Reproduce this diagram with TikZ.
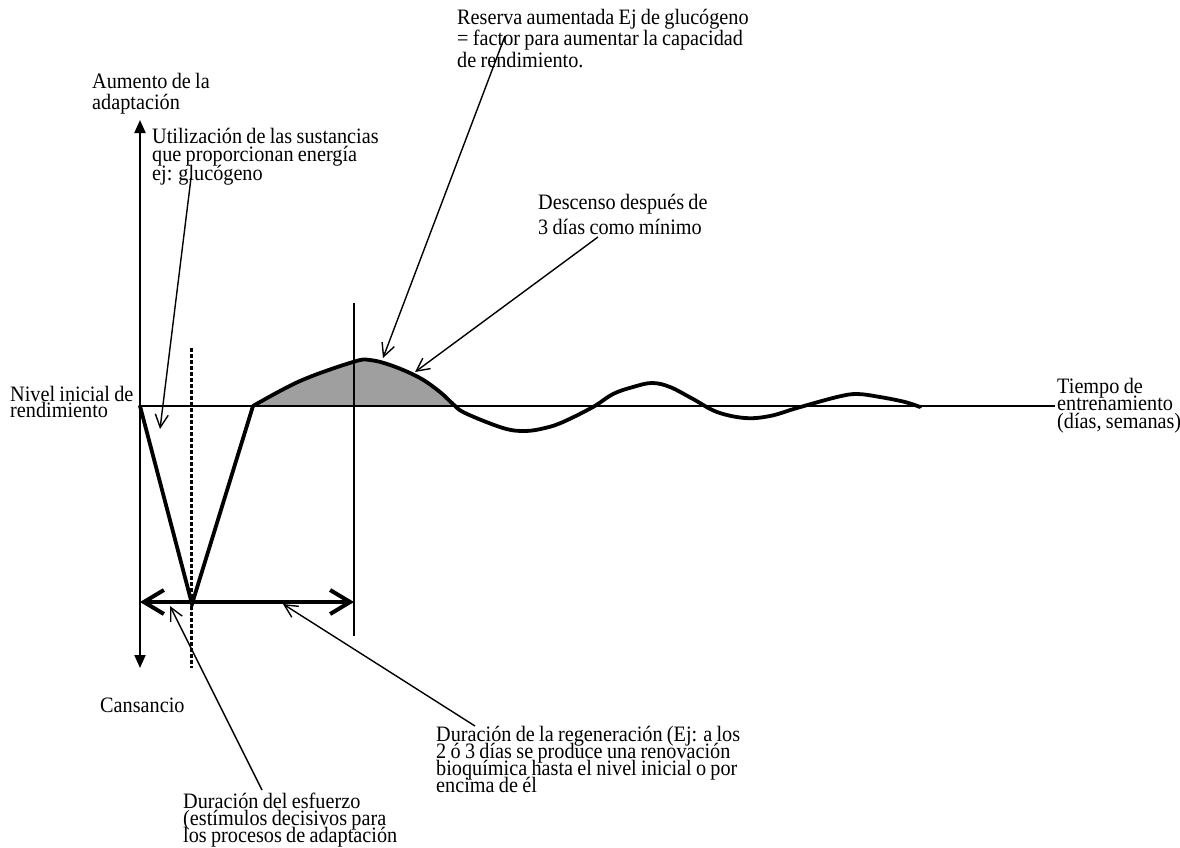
\documentclass[tikz,border=0pt]{standalone}
\usepackage{fontspec}
\setmainfont{Liberation Serif}[FakeStretch=0.92,WordSpace=0.85]
\usetikzlibrary{arrows.meta}
\newcommand{\lblfont}[1]{\fontsize{22}{#1}\selectfont\lineskiplimit=-100pt\relax}
\begin{document}
\begin{tikzpicture}[x=1pt,y=-1pt,
  lbl/.style={anchor=base west,inner sep=0pt,align=left},
  ann/.style={line width=1.4pt,-{Straight Barb[length=13pt,width=13pt,line width=1.4pt]}},
  curve/.style={line width=3.8pt,line join=round,line cap=round},
  axis/.style={line width=2pt}]
\useasboundingbox (0,0) rectangle (1180,847);
% coordinates
\coordinate (O) at (140,406);
\coordinate (Atop) at (140,120);
\coordinate (Abot) at (140,668);
\coordinate (Xend) at (1055,406);
\coordinate (Vb) at (192,604);
\coordinate (Vr) at (253,406);
\coordinate (Dtop) at (191,348);
\coordinate (Dbot) at (191,668);
\coordinate (Ltop) at (354,303);
\coordinate (Lbot) at (354,636);
\coordinate (HL) at (140,602);
\coordinate (HR) at (354,602);
% gray reserve area
\fill[gray!75] plot[smooth,tension=0.6] coordinates {(253,406) (300,381) (353,362) (370,360) (393,366) (420,378) (440,392) (455,406)} -- cycle;
% baseline and axes
\draw[line width=1.3pt] (O) -- (Xend);
\draw[axis,-{Triangle[length=13pt,width=11pt]}] (O) -- (Atop);
\draw[axis,-{Triangle[length=13pt,width=11pt]}] (O) -- (Abot);
% dotted and thin vertical
\draw[line width=3pt,dash pattern=on 4pt off 2pt] (Dtop) -- (Dbot);
\draw[line width=1.3pt] (Ltop) -- (Lbot);
% V
\draw[curve,line join=miter] (O) -- (Vb) -- (Vr);
% wave
\draw[curve] plot[smooth,tension=0.6] coordinates {(253,406) (300,381) (353,362) (370,360) (393,366) (420,378) (440,392) (453,404) (465,413) (503,428) (525,431) (545,428) (563,422) (593,407) (613,394) (633,387) (652,383) (670,387) (693,399) (717,412) (745,418) (770,416) (797,408) (837,397) (857,394) (880,397) (905,402) (920,407)};
% double arrow
\draw[line width=4pt,{Straight Barb[length=20pt,width=24pt,line width=4pt]}-{Straight Barb[length=20pt,width=24pt,line width=4pt]}] (HL) -- (HR);
% labels (anchor = baseline of last line)
\node[lbl,font={\lblfont{21}}] (aum) at (92,109) {Aumento de la\\adaptación};
\node[lbl,font={\lblfont{18.5}}] (util) at (152,180) {Utilización de las sustancias\\que proporcionan energía\\ej: glucógeno};
\node[lbl,font={\lblfont{21.5}}] (res) at (457,67) {Reserva aumentada Ej de glucógeno\\= factor para aumentar la capacidad\\de rendimiento.};
\node[lbl,font={\lblfont{25}}] (desc) at (538,234) {Descenso después de\\3 días como mínimo};
\node[lbl,font={\lblfont{16}}] (niv) at (10,417) {Nivel inicial de\\rendimiento};
\node[lbl,font={\lblfont{17.5}}] (tiem) at (1057,428) {Tiempo de\\entrenamiento\\(días, semanas)};
\node[lbl,font={\lblfont{17}}] (cans) at (100,712) {Cansancio};
\node[lbl,font={\lblfont{17}}] (reg) at (436,792) {Duración de la regeneración (Ej: a los\\2 ó 3 días se produce una renovación\\bioquímica hasta el nivel inicial o por\\encima de él};
\node[lbl,font={\lblfont{17}}] (esf) at (183,842) {Duración del esfuerzo\\(estímulos decisivos para\\los procesos de adaptación};
% annotation arrows
\coordinate (s1) at (191,178); \coordinate (t1) at (160,429);
\coordinate (s2) at (505,36);  \coordinate (t2) at (383,358);
\coordinate (s3) at (598,237); \coordinate (t3) at (415,372);
\coordinate (s4) at (262,790); \coordinate (t4) at (170,606);
\coordinate (s5) at (475,726); \coordinate (t5) at (283,604);
\draw[ann] (s1) -- (t1);
\draw[ann] (s2) -- (t2);
\draw[ann] (s3) -- (t3);
\draw[ann] (s4) -- (t4);
\draw[ann] (s5) -- (t5);
\end{tikzpicture}
\end{document}
